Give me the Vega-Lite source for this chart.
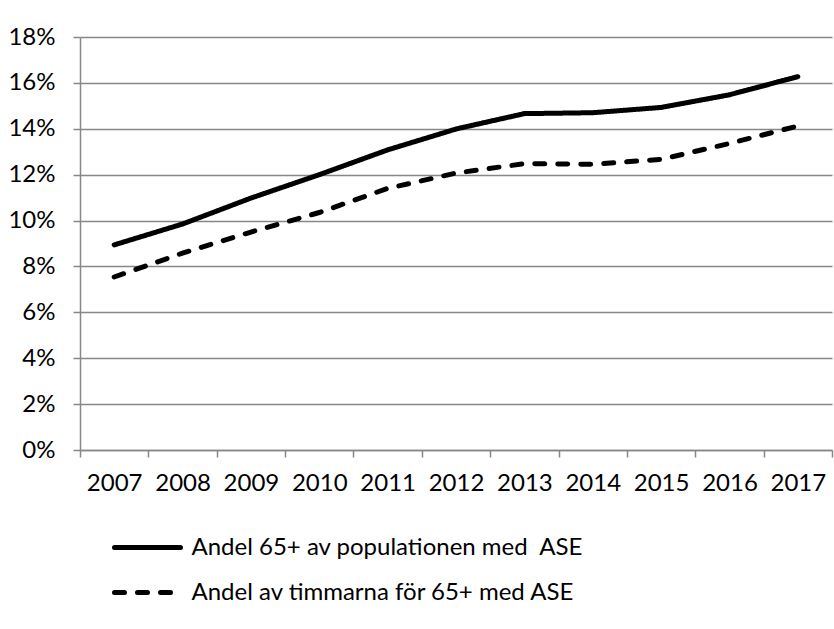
{
  "$schema": "https://vega.github.io/schema/vega-lite/v6.json",
  "width": 752,
  "height": 413,
  "autosize": {"type": "none"},
  "padding": {"left": 80, "top": 37, "right": 2, "bottom": 179},
  "background": "white",
  "config": {
    "view": {"stroke": null},
    "font": "Lato",
    "axis": {"labelFont": "Lato", "labelColor": "#000000"},
    "legend": {"labelFont": "Lato", "labelColor": "#000000"}
  },
  "data": {
    "values": [
      {"year": 2007, "series": "Andel 65+ av populationen med\u00a0 ASE", "value": 0.0894},
      {"year": 2008, "series": "Andel 65+ av populationen med\u00a0 ASE", "value": 0.0985},
      {"year": 2009, "series": "Andel 65+ av populationen med\u00a0 ASE", "value": 0.1098},
      {"year": 2010, "series": "Andel 65+ av populationen med\u00a0 ASE", "value": 0.1200},
      {"year": 2011, "series": "Andel 65+ av populationen med\u00a0 ASE", "value": 0.1308},
      {"year": 2012, "series": "Andel 65+ av populationen med\u00a0 ASE", "value": 0.1399},
      {"year": 2013, "series": "Andel 65+ av populationen med\u00a0 ASE", "value": 0.1466},
      {"year": 2014, "series": "Andel 65+ av populationen med\u00a0 ASE", "value": 0.1470},
      {"year": 2015, "series": "Andel 65+ av populationen med\u00a0 ASE", "value": 0.1493},
      {"year": 2016, "series": "Andel 65+ av populationen med\u00a0 ASE", "value": 0.1548},
      {"year": 2017, "series": "Andel 65+ av populationen med\u00a0 ASE", "value": 0.1627},
      {"year": 2007, "series": "Andel av timmarna för 65+ med ASE", "value": 0.0754},
      {"year": 2008, "series": "Andel av timmarna för 65+ med ASE", "value": 0.0858},
      {"year": 2009, "series": "Andel av timmarna för 65+ med ASE", "value": 0.0950},
      {"year": 2010, "series": "Andel av timmarna för 65+ med ASE", "value": 0.1035},
      {"year": 2011, "series": "Andel av timmarna för 65+ med ASE", "value": 0.1140},
      {"year": 2012, "series": "Andel av timmarna för 65+ med ASE", "value": 0.1207},
      {"year": 2013, "series": "Andel av timmarna för 65+ med ASE", "value": 0.1248},
      {"year": 2014, "series": "Andel av timmarna för 65+ med ASE", "value": 0.1245},
      {"year": 2015, "series": "Andel av timmarna för 65+ med ASE", "value": 0.1267},
      {"year": 2016, "series": "Andel av timmarna för 65+ med ASE", "value": 0.1336},
      {"year": 2017, "series": "Andel av timmarna för 65+ med ASE", "value": 0.1412}
    ]
  },
  "mark": {"type": "line", "strokeWidth": 5, "strokeCap": "round", "strokeJoin": "round", "color": "#000000"},
  "encoding": {
    "x": {
      "field": "year",
      "type": "quantitative",
      "scale": {"domain": [2006.5, 2017.5], "nice": false, "zero": false},
      "axis": {
        "title": null,
        "values": [2006.5, 2007.5, 2008.5, 2009.5, 2010.5, 2011.5, 2012.5, 2013.5, 2014.5, 2015.5, 2016.5, 2017.5],
        "labelExpr": "datum.value < 2017 ? format(datum.value + 0.5, 'd') : ''",
        "labelOffset": 34.2,
        "labelFontSize": 24,
        "labelPadding": 14,
        "labelFlush": false,
        "labelOverlap": false,
        "grid": false,
        "domainColor": "#878787",
        "domainWidth": 1.5,
        "tickColor": "#878787",
        "tickWidth": 1.5,
        "tickSize": 7
      }
    },
    "y": {
      "field": "value",
      "type": "quantitative",
      "scale": {"domain": [0, 0.18], "nice": false},
      "axis": {
        "title": null,
        "values": [0, 0.02, 0.04, 0.06, 0.08, 0.1, 0.12, 0.14, 0.16, 0.18],
        "format": ".0%",
        "labelFontSize": 24,
        "labelPadding": 18,
        "grid": true,
        "gridColor": "#878787",
        "gridWidth": 1.5,
        "domainColor": "#878787",
        "domainWidth": 1.5,
        "tickColor": "#878787",
        "tickWidth": 1.5,
        "tickSize": 7
      }
    },
    "strokeDash": {
      "field": "series",
      "type": "nominal",
      "scale": {
        "domain": ["Andel 65+ av populationen med\u00a0 ASE", "Andel av timmarna för 65+ med ASE"],
        "range": [[1, 0], [10, 13]]
      },
      "legend": {
        "title": null,
        "orient": "none",
        "legendX": 32,
        "legendY": 488,
        "direction": "vertical",
        "symbolType": "stroke",
        "symbolSize": 4356,
        "symbolStrokeWidth": 5,
        "symbolStrokeColor": "#000000",
        "labelFontSize": 24,
        "labelOffset": 8.5,
        "clipHeight": 45,
        "rowPadding": 0,
        "padding": 0,
        "labelLimit": 600,
        "encode": {"symbols": {"update": {"strokeCap": {"value": "round"}}}}
      }
    }
  }
}
